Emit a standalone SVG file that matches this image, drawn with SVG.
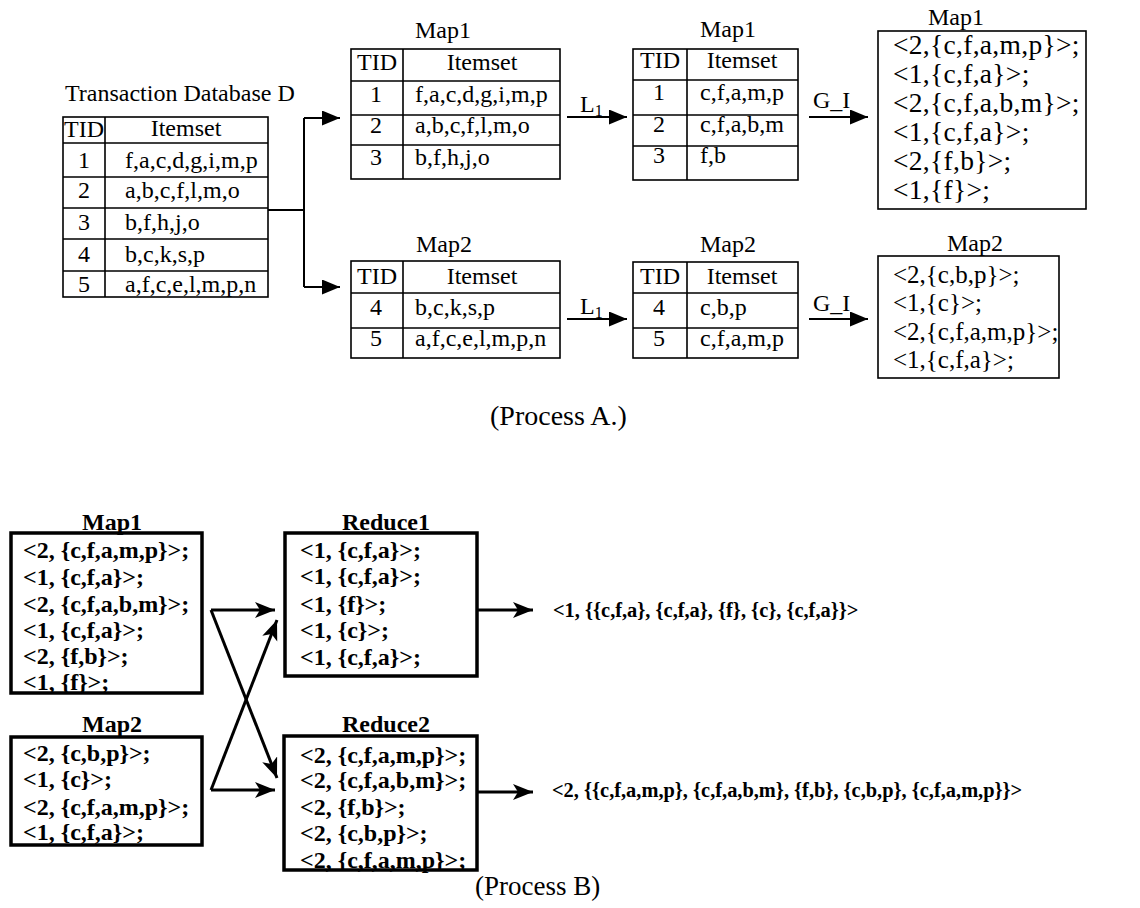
<svg xmlns="http://www.w3.org/2000/svg" width="1140" height="908" viewBox="0 0 1140 908">
<style>
text{font-family:"Liberation Serif","Times New Roman",serif;fill:#000;}
.t{font-size:24px;}
.c{text-anchor:middle;}
.tb{fill:none;stroke:#000;stroke-width:1.6;}
.bx{fill:none;stroke:#000;stroke-width:1.6;}
.bb{fill:none;stroke:#000;stroke-width:3.5;}
.k{font-size:25px;}
.kt{font-size:27.5px;letter-spacing:0.3px;}
.b{font-size:24px;font-weight:bold;}
.o{font-size:20.4px;font-weight:bold;}
.ln{fill:none;stroke:#000;stroke-width:2;}
.lb{fill:none;stroke:#000;stroke-width:3;}
</style>
<defs>
<marker id="ah" markerUnits="userSpaceOnUse" markerWidth="20" markerHeight="16" refX="18" refY="7.5" orient="auto"><path d="M0,0 L18,7.5 L0,15 z" fill="#000"/></marker>
<marker id="ahb" markerUnits="userSpaceOnUse" markerWidth="22" markerHeight="18" refX="20" refY="8" orient="auto"><path d="M0,0 L20,8 L0,16 L5,8 z" fill="#000"/></marker>
</defs>

<g id="tdb">
<text class="t" x="65" y="101">Transaction Database D</text>
<rect class="tb" x="63" y="117" width="205" height="180"/>
<path class="tb" d="M105,117 V297 M63,143 H268 M63,177 H268 M63,208 H268 M63,239 H268 M63,271 H268"/>
<text class="t c" x="84" y="137">TID</text>
<text class="t c" x="186" y="136">Itemset</text>
<text class="t c" x="84" y="168">1</text><text class="t" x="125" y="168">f,a,c,d,g,i,m,p</text>
<text class="t c" x="84" y="198">2</text><text class="t" x="125" y="198">a,b,c,f,l,m,o</text>
<text class="t c" x="84" y="230">3</text><text class="t" x="125" y="230">b,f,h,j,o</text>
<text class="t c" x="84" y="262">4</text><text class="t" x="125" y="262">b,c,k,s,p</text>
<text class="t c" x="84" y="292">5</text><text class="t" x="125" y="292">a,f,c,e,l,m,p,n</text>
</g>

<g id="map1a">
<text class="t" x="415" y="38">Map1</text>
<rect class="tb" x="351" y="49" width="209" height="130"/>
<path class="tb" d="M403,49 V179 M351,81 H560 M351,115 H560 M351,145 H560"/>
<text class="t c" x="377" y="70">TID</text>
<text class="t c" x="482" y="70">Itemset</text>
<text class="t c" x="376" y="102">1</text><text class="t" x="415" y="102">f,a,c,d,g,i,m,p</text>
<text class="t c" x="376" y="133">2</text><text class="t" x="415" y="133">a,b,c,f,l,m,o</text>
<text class="t c" x="376" y="165">3</text><text class="t" x="415" y="165">b,f,h,j,o</text>
</g>

<g id="map2a">
<text class="t" x="416" y="252">Map2</text>
<rect class="tb" x="351" y="261" width="209" height="97"/>
<path class="tb" d="M403,261 V358 M351,293 H560 M351,328 H560"/>
<text class="t c" x="377" y="284">TID</text>
<text class="t c" x="482" y="284">Itemset</text>
<text class="t c" x="376" y="315">4</text><text class="t" x="415" y="315">b,c,k,s,p</text>
<text class="t c" x="376" y="346">5</text><text class="t" x="415" y="346">a,f,c,e,l,m,p,n</text>
</g>

<g id="map1b">
<text class="t" x="700" y="37">Map1</text>
<rect class="tb" x="633" y="49" width="165" height="131"/>
<path class="tb" d="M687,49 V180 M633,80 H798 M633,115 H798 M633,146 H798"/>
<text class="t c" x="660" y="68">TID</text>
<text class="t c" x="742" y="68">Itemset</text>
<text class="t c" x="659" y="100">1</text><text class="t" x="700" y="100">c,f,a,m,p</text>
<text class="t c" x="659" y="132">2</text><text class="t" x="700" y="132">c,f,a,b,m</text>
<text class="t c" x="659" y="163">3</text><text class="t" x="700" y="163">f,b</text>
</g>

<g id="map2b">
<text class="t" x="700" y="252">Map2</text>
<rect class="tb" x="633" y="262" width="165" height="96"/>
<path class="tb" d="M687,262 V358 M633,293 H798 M633,328 H798"/>
<text class="t c" x="660" y="284">TID</text>
<text class="t c" x="742" y="284">Itemset</text>
<text class="t c" x="659" y="315">4</text><text class="t" x="700" y="315">c,b,p</text>
<text class="t c" x="659" y="346">5</text><text class="t" x="700" y="346">c,f,a,m,p</text>
</g>

<g id="map1c">
<text class="t" x="928" y="25">Map1</text>
<rect class="bx" x="878" y="31" width="208" height="178"/>
<text class="kt" x="893" y="54">&lt;2,{c,f,a,m,p}&gt;;</text>
<text class="kt" x="893" y="83">&lt;1,{c,f,a}&gt;;</text>
<text class="kt" x="893" y="112">&lt;2,{c,f,a,b,m}&gt;;</text>
<text class="kt" x="893" y="141">&lt;1,{c,f,a}&gt;;</text>
<text class="kt" x="893" y="170">&lt;2,{f,b}&gt;;</text>
<text class="kt" x="893" y="199">&lt;1,{f}&gt;;</text>
</g>

<g id="map2c">
<text class="t" x="947" y="251">Map2</text>
<rect class="bx" x="878" y="256" width="181" height="122"/>
<text class="k" x="893" y="283">&lt;2,{c,b,p}&gt;;</text>
<text class="k" x="893" y="311">&lt;1,{c}&gt;;</text>
<text class="k" x="893" y="340">&lt;2,{c,f,a,m,p}&gt;;</text>
<text class="k" x="893" y="368">&lt;1,{c,f,a}&gt;;</text>
</g>

<text id="procA" x="490" y="425" style="font-size:28px">(Process A.)</text>

<g id="map1d">
<text class="b" x="82" y="530">Map1</text>
<rect class="bb" x="11" y="533" width="191" height="160"/>
<text class="b" x="23" y="558">&lt;2, {c,f,a,m,p}&gt;;</text>
<text class="b" x="23" y="585">&lt;1, {c,f,a}&gt;;</text>
<text class="b" x="23" y="612">&lt;2, {c,f,a,b,m}&gt;;</text>
<text class="b" x="23" y="638">&lt;1, {c,f,a}&gt;;</text>
<text class="b" x="23" y="664">&lt;2, {f,b}&gt;;</text>
<text class="b" x="23" y="690">&lt;1, {f}&gt;;</text>
</g>

<g id="map2d">
<text class="b" x="82" y="732">Map2</text>
<rect class="bb" x="11" y="737" width="191" height="108"/>
<text class="b" x="23" y="761">&lt;2, {c,b,p}&gt;;</text>
<text class="b" x="23" y="787">&lt;1, {c}&gt;;</text>
<text class="b" x="23" y="815">&lt;2, {c,f,a,m,p}&gt;;</text>
<text class="b" x="23" y="840">&lt;1, {c,f,a}&gt;;</text>
</g>

<g id="reduce1">
<text class="b" x="342" y="530">Reduce1</text>
<rect class="bb" x="285" y="533" width="192" height="143"/>
<text class="b" x="300" y="558">&lt;1, {c,f,a}&gt;;</text>
<text class="b" x="300" y="584">&lt;1, {c,f,a}&gt;;</text>
<text class="b" x="300" y="612">&lt;1, {f}&gt;;</text>
<text class="b" x="300" y="638">&lt;1, {c}&gt;;</text>
<text class="b" x="300" y="665">&lt;1, {c,f,a}&gt;;</text>
</g>

<g id="reduce2">
<text class="b" x="342" y="732">Reduce2</text>
<rect class="bb" x="284" y="736" width="193" height="134"/>
<text class="b" x="300" y="763">&lt;2, {c,f,a,m,p}&gt;;</text>
<text class="b" x="300" y="788">&lt;2, {c,f,a,b,m}&gt;;</text>
<text class="b" x="300" y="815">&lt;2, {f,b}&gt;;</text>
<text class="b" x="300" y="841">&lt;2, {c,b,p}&gt;;</text>
<text class="b" x="300" y="868">&lt;2, {c,f,a,m,p}&gt;;</text>
</g>

<g id="out1"><text class="o" x="553" y="617">&lt;1, {{c,f,a}, {c,f,a}, {f}, {c}, {c,f,a}}&gt;</text></g>
<g id="out2"><text class="o" x="552" y="797">&lt;2, {{c,f,a,m,p}, {c,f,a,b,m}, {f,b}, {c,b,p}, {c,f,a,m,p}}&gt;</text></g>

<text id="procB" x="475" y="895" style="font-size:27px">(Process B)</text>

<g id="connectors">
<path class="ln" d="M268,210 H304 M304,118 V287"/>
<path class="ln" d="M304,118 H340" marker-end="url(#ah)"/>
<path class="ln" d="M304,287 H340" marker-end="url(#ah)"/>
<path class="ln" d="M567,117 H627" marker-end="url(#ah)"/>
<text class="t" x="580" y="112">L<tspan style="font-size:16px" dy="4">1</tspan></text>
<path class="ln" d="M567,319 H627" marker-end="url(#ah)"/>
<text class="t" x="580" y="314">L<tspan style="font-size:16px" dy="4">1</tspan></text>
<path class="ln" d="M809,117 H868" marker-end="url(#ah)"/>
<text class="t" x="813" y="108">G_I</text>
<path class="ln" d="M809,319 H868" marker-end="url(#ah)"/>
<text class="t" x="813" y="311">G_I</text>
<path class="lb" d="M211,610 H275" marker-end="url(#ahb)"/>
<path class="lb" d="M211,790 L277,620" marker-end="url(#ahb)"/>
<path class="lb" d="M211,610 L277,778" marker-end="url(#ahb)"/>
<path class="lb" d="M211,790 H275" marker-end="url(#ahb)"/>
<path class="lb" d="M477,610 H533" marker-end="url(#ahb)"/>
<path class="lb" d="M477,792 H533" marker-end="url(#ahb)"/>
</g>
</svg>
